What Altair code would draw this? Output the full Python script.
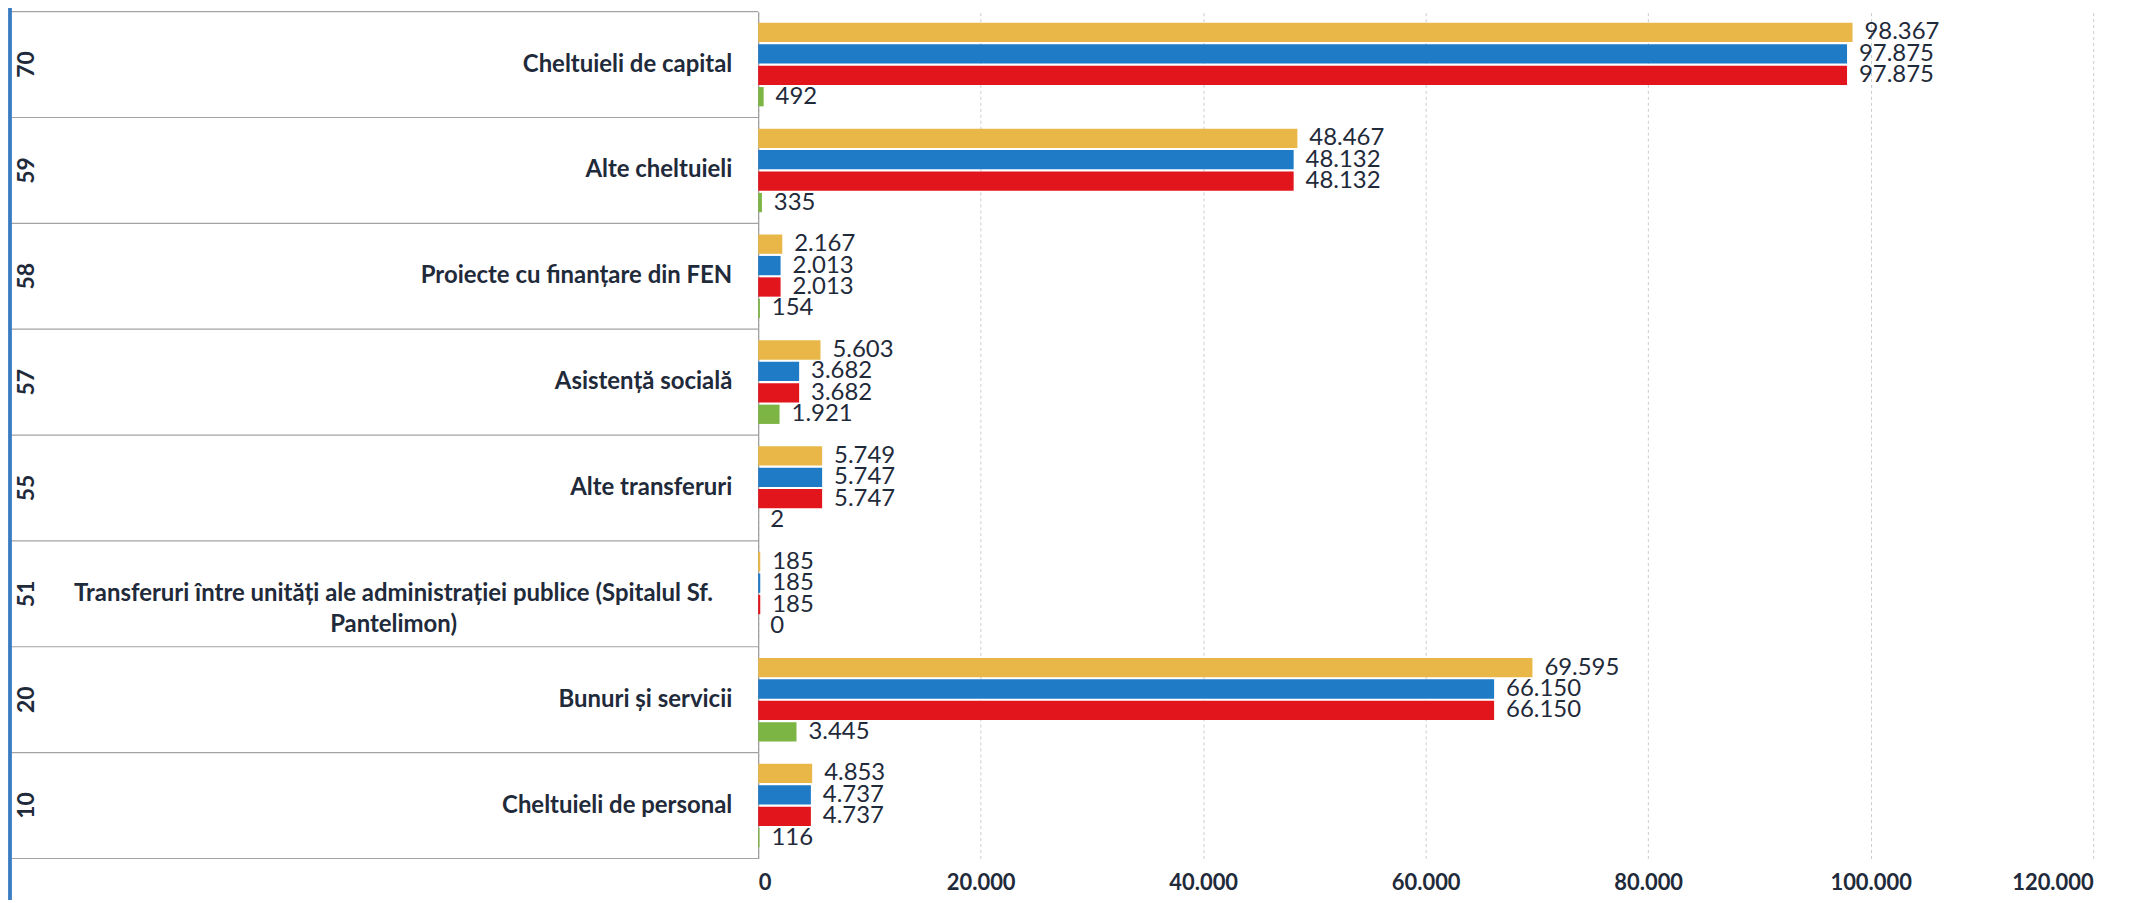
import altair as alt
import pandas as pd

codes = ["70", "59", "58", "57", "55", "51", "20", "10"]
categories = [
    "Cheltuieli de capital",
    "Alte cheltuieli",
    "Proiecte cu finanțare din FEN",
    "Asistență socială",
    "Alte transferuri",
    "Transferuri între unități ale administrației publice (Spitalul Sf. Pantelimon)",
    "Bunuri și servicii",
    "Cheltuieli de personal",
]
label_lines = [
    "Cheltuieli de capital",
    "Alte cheltuieli",
    "Proiecte cu finanțare din FEN",
    "Asistență socială",
    "Alte transferuri",
    "Transferuri între unități ale administrației publice (Spitalul Sf.|Pantelimon)",
    "Bunuri și servicii",
    "Cheltuieli de personal",
]
series = ["Credite bugetare", "Angajamente", "Plăți", "Credite neutilizate"]
colors = ["#E9B748", "#1F7BC6", "#E2141C", "#7DB544"]

s_buget = [98367, 48467, 2167, 5603, 5749, 185, 69595, 4853]
s_angaj = [97875, 48132, 2013, 3682, 5747, 185, 66150, 4737]
s_plati = [97875, 48132, 2013, 3682, 5747, 185, 66150, 4737]
s_dif = [492, 335, 154, 1921, 2, 0, 3445, 116]
x_ticks = [0, 20000, 40000, 60000, 80000, 100000, 120000]

rows = []
for vals, s in zip([s_buget, s_angaj, s_plati, s_dif], series):
    for cat, v in zip(categories, vals):
        rows.append({"category": cat, "series": s, "value": v})
df = pd.DataFrame(rows)
cats_df = pd.DataFrame({"category": categories, "code": codes, "label": label_lines})

TXT = "#1F2A3A"
W, H = 1340, 850

y_enc = alt.Y("category:N", sort=categories,
              scale=alt.Scale(domain=categories, paddingInner=0, paddingOuter=0),
              axis=alt.Axis(title=None, labels=False, ticks=False, grid=False,
                            domain=True, domainColor="#9a9a9a", domainWidth=1.2))
yoff = alt.YOffset("series:N", sort=series,
                   scale=alt.Scale(domain=series, paddingInner=0.1, paddingOuter=0.52))
x_enc = alt.X("value:Q",
              scale=alt.Scale(domain=[0, 120000], nice=False),
              axis=alt.Axis(title=None, values=x_ticks, format=",d", grid=True,
                            gridColor="#c9ccd0", gridDash=[3, 3], gridWidth=1,
                            domain=False, ticks=False, labelFont="Lato",
                            labelFontWeight="bold", labelFontSize=22,
                            labelColor=TXT, labelPadding=14))

base = alt.Chart(df)

bars = base.mark_bar().encode(
    x=x_enc,
    y=y_enc,
    yOffset=yoff,
    color=alt.Color("series:N", sort=series,
                    scale=alt.Scale(domain=series, range=colors), legend=None),
)

values = base.mark_text(align="left", baseline="middle", dx=12,
                        font="Lato", fontSize=24, color=TXT).encode(
    x="value:Q",
    y=alt.Y("category:N", sort=categories),
    yOffset=alt.YOffset("series:N", sort=series),
    text=alt.Text("value:Q", format=",d"),
)

cbase = alt.Chart(cats_df)

row_lines = cbase.mark_rule(color="#a3a3a3", strokeWidth=1.2).encode(
    y=alt.Y("category:N", sort=categories, bandPosition=0),
    x=alt.value(-750), x2=alt.value(0),
)
bottom_line = cbase.mark_rule(color="#a3a3a3", strokeWidth=1.2).encode(
    y=alt.value(H), x=alt.value(-750), x2=alt.value(0),
)
left_border = cbase.mark_rule(color="#3B7DC4", strokeWidth=2.5).encode(
    x=alt.value(-751), y=alt.value(-12), y2=alt.value(H + 45),
)

cat_labels = cbase.transform_filter("indexof(datum.label, '|') < 0").mark_text(
    align="right", baseline="middle", font="Lato", fontWeight="bold",
    fontSize=24, color=TXT).encode(
    y=alt.Y("category:N", sort=categories),
    x=alt.value(-26),
    text="label:N",
)
cat_labels_multi = cbase.transform_filter("indexof(datum.label, '|') >= 0").mark_text(
    align="center", baseline="middle", font="Lato", fontWeight="bold",
    fontSize=24, color=TXT, lineBreak="|", lineHeight=31).encode(
    y=alt.Y("category:N", sort=categories),
    x=alt.value(-366),
    text="label:N",
)
code_labels = cbase.mark_text(
    align="center", baseline="middle", angle=270, font="Lato",
    fontWeight="bold", fontSize=23, color=TXT).encode(
    y=alt.Y("category:N", sort=categories),
    x=alt.value(-734),
    text="code:N",
)

chart = alt.layer(
    row_lines, bottom_line, left_border, bars, values,
    cat_labels, cat_labels_multi, code_labels,
).properties(
    width=W, height=H,
    autosize=alt.AutoSizeParams(type="none"),
    padding={"left": 753, "top": 2, "right": 48, "bottom": 40},
    background="white",
).configure_view(stroke=None)

chart.save("out.html", embed_options={
    "renderer": "svg", "actions": False,
    "formatLocale": {"decimal": ",", "thousands": ".", "grouping": [3], "currency": ["", " lei"]},
})
